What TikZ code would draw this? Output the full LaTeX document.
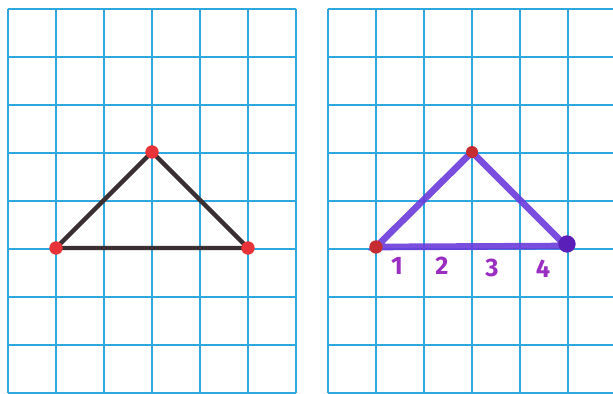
\documentclass[tikz,border=0pt]{standalone}
\usepackage{fontspec}
\setsansfont{Fira Sans}
\definecolor{gridblue}{HTML}{2EA8DE}
\definecolor{dotred}{HTML}{E8333A}
\definecolor{inkdark}{HTML}{3A3034}
\definecolor{violet}{HTML}{6B3BDB}
\definecolor{blobpurple}{HTML}{5A1FB8}
\definecolor{numpurple}{HTML}{9A2EC2}
\begin{document}
\begin{tikzpicture}[x=0.75pt,y=-0.75pt,
  gridline/.style={gridblue, line width=1.3pt},
  reddot/.style={circle, fill=dotred, inner sep=0pt, minimum size=10pt},
  pdot/.style={circle, fill=dotred!85!black, inner sep=0pt, minimum size=10pt},
  blob/.style={circle, fill=blobpurple, inner sep=0pt, minimum size=13pt},
  blackedge/.style={inkdark, line width=3.3pt, line cap=round},
  violetedge/.style={violet, line width=5pt, line cap=round, opacity=0.9},
  num/.style={numpurple, font=\sffamily\bfseries\fontsize{19}{19}\selectfont}]
\useasboundingbox (0,0) rectangle (613,393);
\fill[white] (0,0) rectangle (613,393);
% left grid
\foreach \i in {0,...,6} \draw[gridline] (8+48*\i,9) -- (8+48*\i,393);
\foreach \j in {0,...,8} \draw[gridline] (8,9+48*\j) -- (296,9+48*\j);
% right grid
\foreach \i in {0,...,6} \draw[gridline] (328+48*\i,9) -- (328+48*\i,393);
\foreach \j in {0,...,8} \draw[gridline] (328,9+48*\j) -- (616,9+48*\j);
% left triangle
\coordinate (A) at (56,248);
\coordinate (B) at (152,152);
\coordinate (C) at (248,248);
\draw[blackedge] (A) -- (B) -- (C) -- cycle;
\node[reddot] (a) at (A) {};
\node[reddot] (b) at (B) {};
\node[reddot] (c) at (C) {};
% right triangle
\coordinate (P) at (376,247);
\coordinate (Q) at (472,152);
\coordinate (R) at (566,246);
\draw[violetedge] (P) -- (Q) -- (R) -- cycle;
\node[pdot] (p) at (P) {};
\node[pdot, minimum size=9pt] (q) at (Q) {};
\node[blob] (r) at (567,244) {};
\node[num] (n1) at (397,266) {1};
\node[num] (n2) at (442,266) {2};
\node[num] (n3) at (492,268) {3};
\node[num] (n4) at (543,269) {4};
\end{tikzpicture}
\end{document}
